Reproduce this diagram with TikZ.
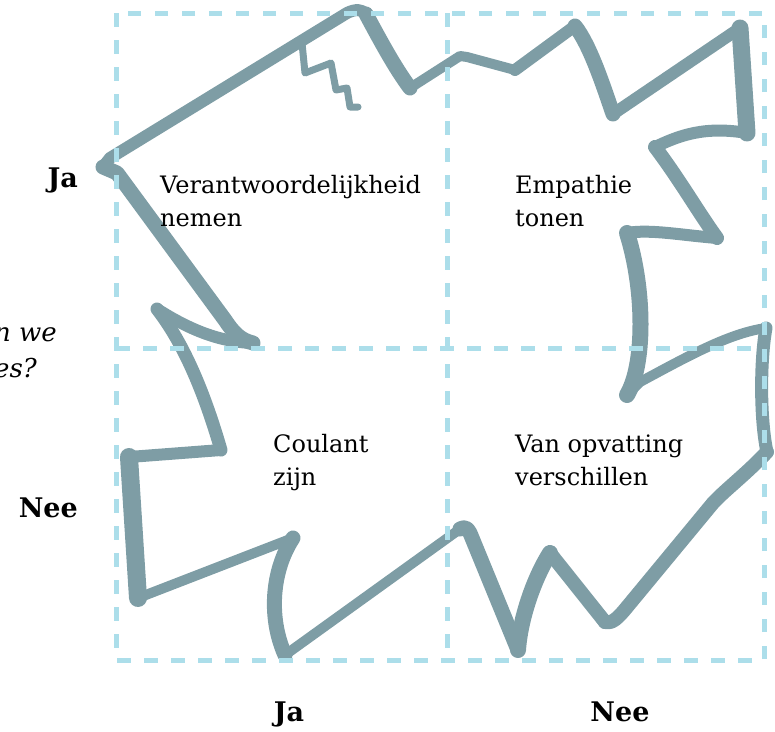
\documentclass[tikz,border=0pt]{standalone}
\usepackage{fontspec}
\setmainfont{DejaVu Serif}
\definecolor{blob}{RGB}{126,157,165}
\definecolor{gridc}{RGB}{172,222,234}
\begin{document}
\begin{tikzpicture}[x=1pt,y=-1pt,
  br/.style={draw=blob,line cap=round,line join=round},
  gridline/.style={draw=gridc,line width=5pt,dash pattern=on 13.5pt off 13.5pt},
  qtext/.style={inner sep=0pt,align=left,font=\fontsize{24}{32.5}\selectfont},
  axis/.style={inner sep=0pt,font=\fontsize{27}{30}\selectfont\bfseries},
  cut/.style={inner sep=0pt,font=\fontsize{26}{32}\selectfont\itshape}]
\useasboundingbox (0,0) rectangle (775,731);
% ---- brush outline ----
\draw[br,line width=12pt] (103,167) -- (110,158) -- (347,13) .. controls (355,9) and (362,9) .. (366,14);
\draw[br,line width=15pt] (366,14) .. controls (380,40) and (395,68) .. (410,88);
\draw[br,line width=10pt] (410,88) -- (460,56) -- (467,57) -- (515,70);
\draw[br,line width=12pt] (515,70) -- (575,26);
\draw[br,line width=15pt] (575,26) .. controls (590,45) and (603,85) .. (613,114);
\draw[br,line width=12pt] (613,114) -- (740,28);
\draw[br,line width=17pt] (740,28) -- (747,133);
\draw[br,line width=12pt] (747,133) .. controls (705,126) and (680,135) .. (655,147);
\draw[br,line width=14pt] (655,147) .. controls (680,180) and (700,215) .. (717,238);
\draw[br,line width=12pt] (717,238) .. controls (680,235) and (650,229) .. (627,233);
\draw[br,line width=16pt] (627,233) .. controls (645,290) and (645,365) .. (627,395);
\draw[br,line width=10pt] (627,395) -- (640,382) .. controls (690,355) and (730,333) .. (766,328);
\draw[br,line width=13pt] (766,328) .. controls (760,360) and (760,420) .. (767,452);
\draw[br,line width=14pt] (767,452) .. controls (745,475) and (725,490) .. (713,503) -- (627,607) .. controls (618,618) and (612,624) .. (605,622);
\draw[br,line width=14pt] (605,622) -- (550,553);
\draw[br,line width=16pt] (550,553) .. controls (533,580) and (520,620) .. (518,650);
\draw[br,line width=15pt] (518,650) -- (470,533) .. controls (467,527) and (464,527) .. (460,529);
\draw[br,line width=10pt] (460,529) -- (285,655);
\draw[br,line width=15pt] (285,655) .. controls (268,617) and (272,570) .. (293,538);
\draw[br,line width=10pt] (293,538) -- (138,598);
\draw[br,line width=18pt] (138,598) -- (129,457);
\draw[br,line width=12pt] (129,457) -- (221,450);
\draw[br,line width=13pt] (221,450) .. controls (205,395) and (185,345) .. (157,309);
\draw[br,line width=12pt] (157,309) .. controls (190,330) and (220,342) .. (253,343);
\draw[br,line width=15pt] (253,343) .. controls (240,340) and (233,332) .. (225,320) -- (117,173) -- (103,167);
% small zigzag
\draw[br,line width=7pt] (302,43) -- (305,73) -- (331,63) -- (336,90) -- (347,88) -- (350,107) -- (358,107);
% ---- dashed grid ----
\draw[gridline] (116,13) rectangle (764,660);
\draw[gridline] (447,13) -- (447,660);
\draw[gridline] (116,348) -- (764,348);
% ---- texts ----
\node[qtext,anchor=base west] (tl) at (160,226) {Verantwoordelijkheid\\nemen};
\node[qtext,anchor=base west] (tr) at (515,226) {Empathie\\tonen};
\node[qtext,anchor=base west] (bl) at (273,485) {Coulant\\zijn};
\node[qtext,anchor=base west] (brr) at (515,485) {Van opvatting\\verschillen};
\node[axis,anchor=base east] (rowja) at (78,187) {Ja};
\node[axis,anchor=base east] (rownee) at (78,517) {Nee};
\node[axis,anchor=base] (colja) at (289,721) {Ja};
\node[axis,anchor=base] (colnee) at (620,721) {Nee};
\node[cut,anchor=base east] (q1) at (57,341) {n we};
\node[cut,anchor=base east] (q2) at (37,377) {es?};
\end{tikzpicture}
\end{document}
